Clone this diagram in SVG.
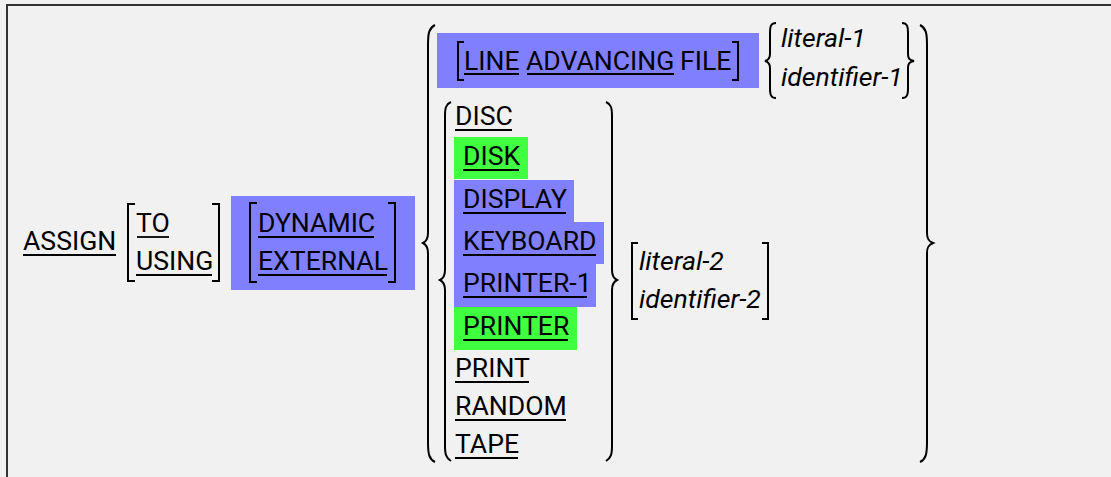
<svg xmlns="http://www.w3.org/2000/svg" width="1111" height="477" viewBox="0 0 1111 477">
  <style>
    .kw { font-family: Roboto, "Liberation Sans", sans-serif; font-size: 26.6px; fill: #000; }
    .var { font-family: Roboto, "Liberation Sans", sans-serif; font-size: 26.6px; font-style: italic; fill: #000; }
    .ul { stroke: #000; stroke-width: 1.8; }
    .br { fill: none; stroke: #000; stroke-width: 2; stroke-linejoin: miter; }
    .blue { fill: #8080ff; }
    .green { fill: #40ff40; }
  </style>

  <!-- page background and frame -->
  <rect x="0" y="0" width="1111" height="477" fill="#f1f1f1"/>
  <path d="M7,477 V5 H1111" fill="none" stroke="#333" stroke-width="2"/>

  <!-- ASSIGN keyword -->
  <g id="assign">
    <text class="kw" x="23" y="250">ASSIGN</text>
    <line class="ul" x1="23" y1="255" x2="116" y2="255"/>
  </g>

  <!-- optional TO / USING -->
  <g id="to-using">
    <path class="br" d="M135,204 H128 V281 H135"/>
    <text class="kw" x="136" y="232">TO</text>
    <line class="ul" x1="137" y1="237" x2="169" y2="237"/>
    <text class="kw" x="136" y="270">USING</text>
    <line class="ul" x1="136" y1="275" x2="212" y2="275"/>
    <path class="br" d="M212,204 H219 V281 H212"/>
  </g>

  <!-- optional DYNAMIC / EXTERNAL -->
  <g id="dynamic-external">
    <rect class="blue" x="231" y="196" width="184" height="94"/>
    <path class="br" d="M257,203 H250 V282 H257"/>
    <text class="kw" x="258" y="232">DYNAMIC</text>
    <line class="ul" x1="258" y1="237" x2="374" y2="237"/>
    <text class="kw" x="258" y="270">EXTERNAL</text>
    <line class="ul" x1="258" y1="275" x2="387" y2="275"/>
    <path class="br" d="M388,203 H395 V282 H388"/>
  </g>

  <!-- LINE ADVANCING FILE -->
  <g id="line-advancing">
    <rect class="blue" x="437" y="33" width="322" height="55"/>
    <path class="br" d="M464,42 H458 V80 H464"/>
    <text class="kw" x="464" y="70">LINE <tspan x="526">ADVANCING</tspan> <tspan x="680">FILE</tspan></text>
    <line class="ul" x1="464" y1="74" x2="519" y2="74"/>
    <line class="ul" x1="527" y1="74" x2="674" y2="74"/>
    <path class="br" d="M732,42 H738 V80 H732"/>
  </g>

  <!-- literal-1 / identifier-1 -->
  <g id="literal-1">
    <path class="br" d="M776,23 C771,23 770,26 770,33 L770,54 C770,58 769,60 765,61 C769,62 770,64 770,68 L770,88 C770,95 771,98 776,98"/>
    <text class="var" x="781" y="47">literal-1</text>
    <text class="var" x="781" y="86">identifier-1</text>
    <path class="br" d="M902,23 C907,23 908,26 908,33 L908,54 C908,58 909,60 914,61 C909,62 908,64 908,68 L908,88 C908,95 907,98 902,98"/>
  </g>

  <!-- device names -->
  <g id="devices">
    <path class="br" d="M451,102 C446,104 445,108 445,116 L445,270 C445,275 444,278 440,280 C444,282 445,285 445,290 L445,446 C445,454 446,458 451,461"/>

    <text class="kw" x="455" y="125">DISC</text>
    <line class="ul" x1="455" y1="130" x2="512" y2="130"/>

    <rect class="green" x="454" y="137" width="74" height="42"/>
    <text class="kw" x="463" y="165">DISK</text>
    <line class="ul" x1="463" y1="170" x2="519" y2="170"/>

    <rect class="blue" x="454" y="180" width="120" height="42"/>
    <text class="kw" x="463" y="208">DISPLAY</text>
    <line class="ul" x1="463" y1="213" x2="566" y2="213"/>

    <rect class="blue" x="454" y="222" width="150" height="42"/>
    <text class="kw" x="463" y="250">KEYBOARD</text>
    <line class="ul" x1="463" y1="255" x2="596" y2="255"/>

    <rect class="blue" x="454" y="264" width="142" height="43"/>
    <text class="kw" x="463" y="292">PRINTER-1</text>
    <line class="ul" x1="463" y1="297" x2="587" y2="297"/>

    <rect class="green" x="454" y="307" width="123" height="43"/>
    <text class="kw" x="463" y="335">PRINTER</text>
    <line class="ul" x1="463" y1="340" x2="568" y2="340"/>

    <text class="kw" x="455" y="377">PRINT</text>
    <line class="ul" x1="455" y1="382" x2="529" y2="382"/>

    <text class="kw" x="455" y="415">RANDOM</text>
    <line class="ul" x1="455" y1="420" x2="566" y2="420"/>

    <text class="kw" x="455" y="453">TAPE</text>
    <line class="ul" x1="455" y1="458" x2="518" y2="458"/>

    <path class="br" d="M606,102 C611,104 612,108 612,116 L612,270 C612,275 613,278 617,280 C613,282 612,285 612,290 L612,446 C612,454 611,458 606,461"/>
  </g>

  <!-- optional literal-2 / identifier-2 -->
  <g id="literal-2">
    <path class="br" d="M638,243 H632 V319 H638"/>
    <text class="var" x="639" y="270">literal-2</text>
    <text class="var" x="639" y="308">identifier-2</text>
    <path class="br" d="M762,243 H768 V319 H762"/>
  </g>

  <!-- enclosing braces round the file-name choice -->
  <g id="outer-choice">
    <path class="br" d="M435,25 C429,28 428,33 428,45 L428,233 C428,238 427,241 423,243 C427,245 428,248 428,253 L428,442 C428,454 429,459 435,462"/>
    <path class="br" d="M920,25 C926,28 927,33 927,45 L927,233 C927,238 928,241 933,243 C928,245 927,248 927,253 L927,442 C927,454 926,459 920,462"/>
  </g>
</svg>
